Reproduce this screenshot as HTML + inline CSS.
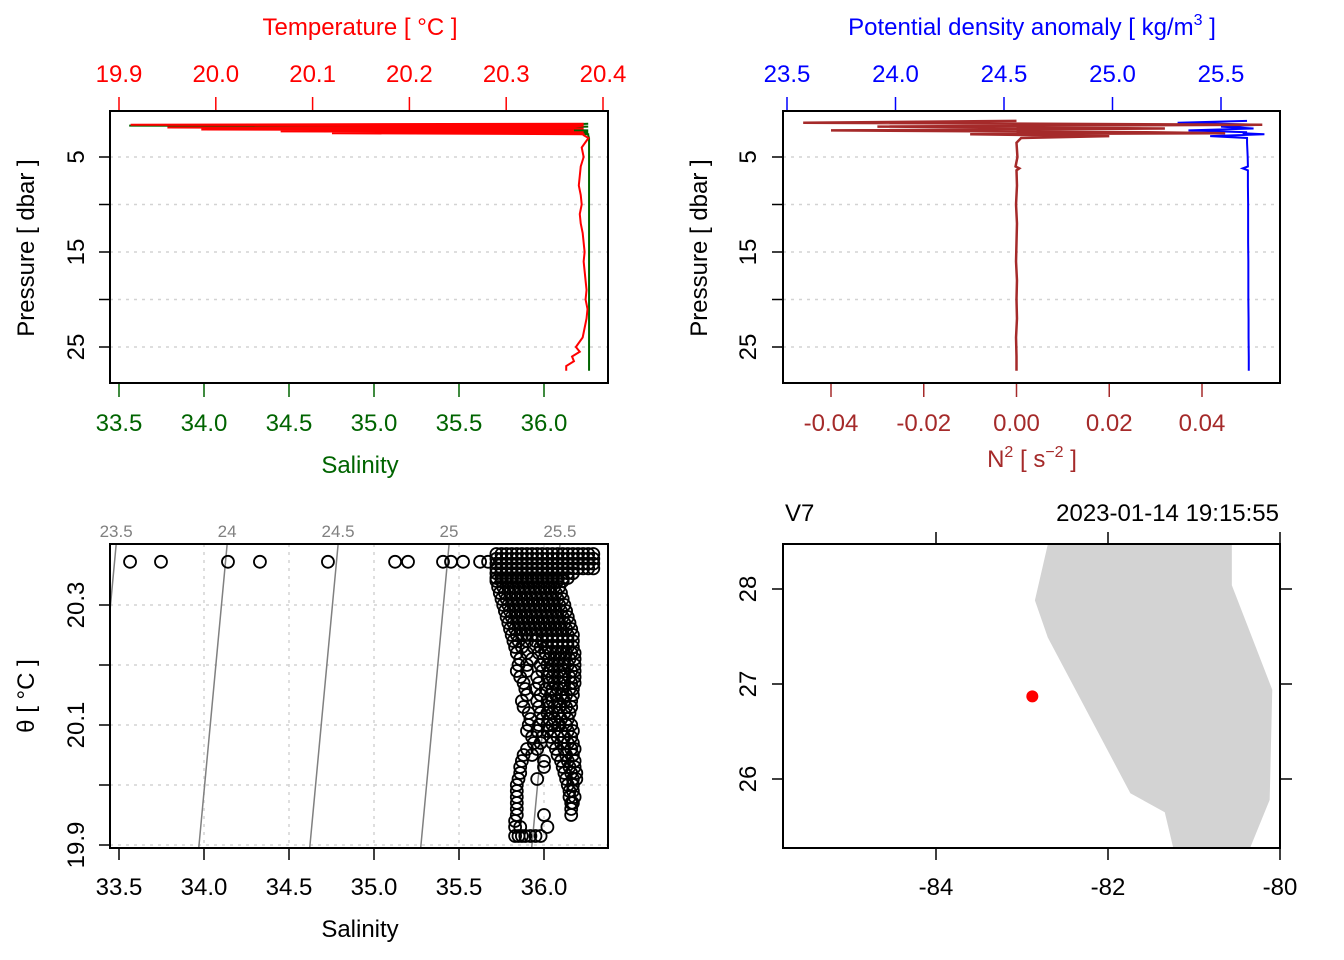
<!DOCTYPE html>
<html><head><meta charset="utf-8"><style>
html,body{margin:0;padding:0;background:#fff;}
svg{display:block;font-family:"Liberation Sans",sans-serif;}
</style></head><body>
<svg id="chart" width="1344" height="960" viewBox="0 0 1344 960" xmlns="http://www.w3.org/2000/svg"></svg>
<script>
// ---- Panel 1: profile data ----
const profPressure = [1.5,1.6,1.7,1.8,1.9,2.0,2.1,2.2,2.3,2.4,2.5,2.6,2.7,3,4,5,6,7,8,9,10,11,12,13,14,15,16,17,18,19,20,21,22,23,24,25,25.5,26,26.5,27,27.5];
const profTemp = [20.38,19.912,20.38,20.37,19.95,20.38,19.985,20.37,20.067,20.38,20.12,20.38,20.38,20.385,20.378,20.38,20.377,20.376,20.375,20.377,20.378,20.376,20.377,20.379,20.38,20.381,20.38,20.381,20.382,20.383,20.382,20.384,20.383,20.381,20.379,20.372,20.376,20.368,20.37,20.362,20.362];
const profSal = [36.26,36.1,33.56,36.26,35.9,36.2,35.85,36.26,35.95,36.26,36.05,36.26,36.26,36.265,36.265,36.265,36.265,36.265,36.265,36.265,36.265,36.265,36.265,36.265,36.265,36.265,36.265,36.265,36.265,36.265,36.265,36.265,36.265,36.265,36.265,36.265,36.265,36.265,36.265,36.265,36.265];
// ---- Panel 2: density & N2 ----
const p2Pressure = [1.2,1.4,1.6,1.8,2.0,2.2,2.4,2.5,2.6,2.8,3,3.5,5,6,6.2,6.4,8,10,12,14,16,18,20,22,24,26,27.5];
const p2Sigma = [25.62,25.3,25.68,25.5,25.65,25.35,25.62,25.6,25.7,25.45,25.62,25.62,25.623,25.624,25.6,25.624,25.624,25.625,25.625,25.625,25.626,25.626,25.626,25.627,25.627,25.628,25.628];
const p2N2 = [0,-0.046,0.053,-0.03,0.032,-0.04,0.028,0.045,-0.01,0.02,0.001,0,0.0002,-0.0002,0.0006,0,0.0001,-0.0001,0.0001,0,-0.0001,0.0001,0,0.0001,-0.0001,0,0];
// ---- Panel 3: TS scatter ----
const tsRows = [20.372,20.385,20.377,20.369,20.361,20.353,20.345,20.34,20.33,20.32,20.31,20.30,20.29,20.28,20.27,20.26,20.25,20.24,20.23,20.22,20.21,20.20,20.19,20.18,20.17,20.16,20.15,20.14,20.13,20.12,20.11,20.10,20.09,20.08,20.07,20.06,20.05,20.04,20.03,20.02,20.01,20.00,19.99,19.98,19.97,19.96,19.95,19.94,19.93,19.915];
const tsSal = [
 [33.565,33.747,34.141,34.329,34.729,35.124,35.2,35.406,35.453,35.524,35.624,35.671],
 [35.72,35.75,35.78,35.81,35.84,35.87,35.90,35.93,35.96,35.99,36.02,36.05,36.08,36.11,36.14,36.17,36.20,36.23,36.26,36.29],
 [35.72,35.75,35.78,35.81,35.84,35.87,35.90,35.93,35.96,35.99,36.02,36.05,36.08,36.11,36.14,36.17,36.20,36.23,36.26,36.29],
 [35.72,35.75,35.78,35.81,35.84,35.87,35.90,35.93,35.96,35.99,36.02,36.05,36.08,36.11,36.14,36.17,36.20,36.23,36.26,36.29],
 [35.72,35.75,35.78,35.81,35.84,35.87,35.90,35.93,35.96,35.99,36.02,36.05,36.08,36.11,36.14,36.17,36.20,36.23,36.26,36.29],
 [35.72,35.75,35.78,35.81,35.84,35.87,35.90,35.93,35.96,35.99,36.02,36.05,36.08,36.11,36.14,36.17],
 [35.72,35.75,35.78,35.81,35.84,35.87,35.90,35.93,35.96,35.99,36.02,36.05,36.08,36.11,36.14],
 [35.72,35.75,35.78,35.81,35.84,35.87,35.90,35.93,35.96,35.99,36.02,36.05,36.08,36.11],
 [35.73,35.76,35.79,35.82,35.85,35.88,35.91,35.94,35.97,36.00,36.03,36.06,36.09],
 [35.74,35.77,35.80,35.83,35.86,35.89,35.92,35.95,35.98,36.01,36.04,36.07,36.10],
 [35.75,35.78,35.81,35.84,35.87,35.90,35.93,35.96,35.99,36.02,36.05,36.08,36.11],
 [35.76,35.79,35.82,35.85,35.88,35.91,35.94,35.97,36.00,36.03,36.06,36.09,36.12],
 [35.77,35.80,35.83,35.86,35.89,35.92,35.95,35.98,36.01,36.04,36.07,36.10,36.13],
 [35.78,35.81,35.84,35.87,35.90,35.93,35.96,35.99,36.02,36.05,36.08,36.11,36.14],
 [35.79,35.82,35.85,35.88,35.91,35.94,35.97,36.00,36.03,36.06,36.09,36.12,36.15],
 [35.80,35.83,35.86,35.89,35.92,35.95,35.98,36.01,36.04,36.07,36.10,36.13,36.16],
 [35.81,35.84,35.87,35.90,35.93,35.96,35.99,36.02,36.05,36.08,36.11,36.14,36.17],
 [35.82,35.85,35.90,35.95,35.99,36.02,36.05,36.08,36.11,36.14,36.17],
 [35.83,35.87,35.94,35.98,36.02,36.05,36.08,36.11,36.14,36.17],
 [35.84,35.90,35.97,36.01,36.04,36.07,36.10,36.13,36.16,36.18],
 [35.86,35.93,36.00,36.03,36.06,36.09,36.12,36.15,36.18],
 [35.85,35.90,35.98,36.02,36.05,36.08,36.11,36.14,36.18],
 [35.84,35.90,35.99,36.03,36.06,36.09,36.12,36.16,36.18],
 [35.86,35.96,36.02,36.05,36.08,36.11,36.15,36.18],
 [35.88,35.97,36.03,36.06,36.09,36.12,36.16,36.18],
 [35.89,35.95,36.01,36.05,36.08,36.11,36.15,36.17],
 [35.90,35.98,36.04,36.07,36.10,36.13,36.17],
 [35.87,35.96,36.02,36.05,36.08,36.12,36.16],
 [35.88,35.97,36.03,36.06,36.09,36.13,36.16],
 [35.91,35.98,36.02,36.05,36.08,36.12,36.15],
 [35.92,35.99,36.03,36.06,36.10,36.14],
 [35.91,35.97,36.02,36.05,36.09,36.13,36.16],
 [35.90,35.96,36.02,36.06,36.10,36.14,36.17],
 [35.93,35.99,36.04,36.08,36.12,36.16],
 [35.94,35.98,36.05,36.10,36.14,36.17],
 [35.90,35.96,36.07,36.12,36.16,36.18],
 [35.88,35.93,36.08,36.13,36.17],
 [35.87,36.00,36.10,36.14,36.18],
 [35.86,36.00,36.11,36.15,36.18],
 [35.86,36.12,36.16,36.19],
 [35.85,35.96,36.13,36.17,36.19],
 [35.84,36.14,36.17],
 [35.84,36.15,36.17],
 [35.84,36.15,36.18],
 [35.84,36.16,36.17],
 [35.84,36.16],
 [35.84,36.0,36.16],
 [35.83],
 [35.83,35.86,36.02],
 [35.83,35.85,35.87,35.89,35.92,35.95,35.98]
];
const sigmaLevels = [23.5,24,24.5,25,25.5];
const sigmaLabels = ["23.5","24","24.5","25","25.5"];
// ---- Panel 4: map ----
const coastLon = [-82.70,-80.56,-80.56,-80.09,-80.12,-80.35,-81.24,-81.34,-81.74,-82.70,-82.85];
const coastLat = [28.47,28.47,28.04,26.94,25.78,25.27,25.27,25.65,25.85,27.49,27.88];
const stationLon = [-82.88];
const stationLat = [26.87];

const svg = document.getElementById('chart');
const NS = 'http://www.w3.org/2000/svg';
function mk(tag, attrs, parent, name, inter){
  const e = document.createElementNS(NS, tag);
  for (const k in attrs) e.setAttribute(k, attrs[k]);
  
  
  (parent||svg).appendChild(e); return e;
}
function txt(x,y,s,attrs,name){
  const t = mk('text', Object.assign({x:x,y:y,'font-size':24,'text-anchor':'middle'},attrs||{}), svg, name, false);
  t.textContent = s; return t;
}

// ===== Panel 1 =====
const S1 = s => 119 + (s-33.5)*170;
const T1 = t => 119 + (t-19.9)*968;
const P1 = p => 109.5 + p*9.5;
[5,10,15,20,25].forEach(p=>{
  mk('line',{x1:110,x2:608,y1:P1(p),y2:P1(p),stroke:'#d3d3d3','stroke-width':1.5,'stroke-dasharray':'3,5'},svg,'grid-line-p1',false);
  mk('line',{x1:99,x2:110,y1:P1(p),y2:P1(p),stroke:'#000','stroke-width':1.5},svg,'y-tick-p1',false);
});
[5,15,25].forEach(p=>{ txt(0,0,String(p),{transform:`translate(84,${P1(p)}) rotate(-90)`},'y-tick-label-p1'); });
txt(0,0,'Pressure [ dbar ]',{transform:'translate(34,248) rotate(-90)'},'y-axis-title-p1');
[19.9,20.0,20.1,20.2,20.3,20.4].forEach(t=>{
  mk('line',{x1:T1(t),x2:T1(t),y1:97,y2:111,stroke:'red','stroke-width':1.5},svg,'temp-tick',false);
  txt(T1(t),82,t.toFixed(1),{fill:'red'},'temp-tick-label');
});
txt(360,35,'Temperature [ °C ]',{fill:'red'},'temperature-axis-title');
[33.5,34.0,34.5,35.0,35.5,36.0].forEach(s=>{
  mk('line',{x1:S1(s),x2:S1(s),y1:383,y2:397,stroke:'#006400','stroke-width':1.5},svg,'salinity-tick',false);
  txt(S1(s),431,s.toFixed(1),{fill:'#006400'},'salinity-tick-label');
});
txt(360,473,'Salinity',{fill:'#006400'},'salinity-axis-title');
mk('polyline',{points:profPressure.map((p,i)=>S1(profSal[i])+','+P1(p)).join(' '),fill:'none',stroke:'#006400','stroke-width':2},svg,'salinity-profile',false);
mk('polyline',{points:profPressure.map((p,i)=>T1(profTemp[i])+','+P1(p)).join(' '),fill:'none',stroke:'red','stroke-width':2},svg,'temperature-profile',false);
mk('rect',{x:110,y:111,width:498,height:272,fill:'none',stroke:'#000','stroke-width':2},svg,'plot-frame-p1',false);

// ===== Panel 2 =====
const SG = s => 787 + (s-23.5)*217;
const NX = n => 1016.5 + n*4637.5;
const P2 = p => 109.5 + p*9.5;
[5,10,15,20,25].forEach(p=>{
  mk('line',{x1:783,x2:1280,y1:P2(p),y2:P2(p),stroke:'#d3d3d3','stroke-width':1.5,'stroke-dasharray':'3,5'},svg,'grid-line-p2',false);
  mk('line',{x1:772,x2:783,y1:P2(p),y2:P2(p),stroke:'#000','stroke-width':1.5},svg,'y-tick-p2',false);
});
[5,15,25].forEach(p=>{ txt(0,0,String(p),{transform:`translate(756,${P2(p)}) rotate(-90)`},'y-tick-label-p2'); });
txt(0,0,'Pressure [ dbar ]',{transform:'translate(707,248) rotate(-90)'},'y-axis-title-p2');
[23.5,24.0,24.5,25.0,25.5].forEach(s=>{
  mk('line',{x1:SG(s),x2:SG(s),y1:97,y2:111,stroke:'blue','stroke-width':1.5},svg,'density-tick',false);
  txt(SG(s),82,s.toFixed(1),{fill:'blue'},'density-tick-label');
});
(function(){const t=txt(1032,35,'',{fill:'blue'},'density-axis-title');
 t.innerHTML='Potential density anomaly [ kg/m<tspan font-size="16" dy="-10">3</tspan><tspan dy="10"> ]</tspan>';})();
[-0.04,-0.02,0,0.02,0.04].forEach(n=>{
  mk('line',{x1:NX(n),x2:NX(n),y1:383,y2:397,stroke:'#A52A2A','stroke-width':1.5},svg,'n2-tick',false);
  txt(NX(n),431,n.toFixed(2),{fill:'#A52A2A'},'n2-tick-label');
});
(function(){const t=txt(1032,467,'',{fill:'#A52A2A'},'n2-axis-title');
 t.innerHTML='N<tspan font-size="16" dy="-10">2</tspan><tspan dy="10"> [ s</tspan><tspan font-size="16" dy="-10">−2</tspan><tspan dy="10"> ]</tspan>';})();
mk('polyline',{points:p2Pressure.map((p,i)=>SG(p2Sigma[i])+','+P2(p)).join(' '),fill:'none',stroke:'blue','stroke-width':2},svg,'density-profile',false);
mk('polyline',{points:p2Pressure.map((p,i)=>NX(p2N2[i])+','+P2(p)).join(' '),fill:'none',stroke:'#A52A2A','stroke-width':2.5},svg,'n2-profile',false);
mk('rect',{x:783,y:111,width:497,height:272,fill:'none',stroke:'#000','stroke-width':2},svg,'plot-frame-p2',false);

// ===== Panel 3 =====
const S3 = s => 119 + (s-33.5)*170;
const T3 = t => 725 - (t-20.1)*600;
const cp = mk('clipPath',{id:'c3'},svg,'clip-ts',false);
mk('rect',{x:110,y:544,width:498,height:304},cp,'clip-rect',false);
[34.0,34.5,35.0,35.5,36.0].forEach(s=>mk('line',{x1:S3(s),x2:S3(s),y1:544,y2:848,stroke:'#d3d3d3','stroke-width':1.5,'stroke-dasharray':'3,5'},svg,'grid-vline-p3',false));
[20.3,20.2,20.1,20.0,19.9].forEach(t=>mk('line',{x1:110,x2:608,y1:T3(t),y2:T3(t),stroke:'#d3d3d3','stroke-width':1.5,'stroke-dasharray':'3,5'},svg,'grid-hline-p3',false));
const g3 = mk('g',{'clip-path':'url(#c3)'},svg,'ts-plot-area',false);
sigmaLevels.forEach((sg,i)=>{
  const sAt = t => 36.094 + (sg-25.5)/0.766 + 0.33*(t-20.4);
  mk('line',{x1:S3(sAt(20.4)),y1:T3(20.4),x2:S3(sAt(19.87)),y2:T3(19.87),stroke:'#808080','stroke-width':1.5},g3,'isopycnal-line',false);
  txt(S3(sAt(20.4)),537,sigmaLabels[i],{fill:'#808080','font-size':17},'isopycnal-label');
});
tsRows.forEach((t,i)=>tsSal[i].forEach(s=>{
  mk('circle',{cx:S3(s),cy:T3(t),r:6,fill:'none',stroke:'#000','stroke-width':1.8},g3,'ts-point',false);
}));
[33.5,34.0,34.5,35.0,35.5,36.0].forEach(s=>{
  mk('line',{x1:S3(s),x2:S3(s),y1:848,y2:860,stroke:'#000','stroke-width':1.5},svg,'x-tick-p3',false);
  txt(S3(s),895,s.toFixed(1),{},'x-tick-label-p3');
});
txt(360,937,'Salinity',{},'x-axis-title-p3');
[19.9,20.1,20.3].forEach(t=>{
  mk('line',{x1:99,x2:110,y1:T3(t),y2:T3(t),stroke:'#000','stroke-width':1.5},svg,'y-tick-p3',false);
  txt(0,0,t.toFixed(1),{transform:`translate(84,${T3(t)}) rotate(-90)`},'y-tick-label-p3');
});
[20.0,20.2].forEach(t=>mk('line',{x1:99,x2:110,y1:T3(t),y2:T3(t),stroke:'#000','stroke-width':1.5},svg,'y-tick-p3',false));
txt(0,0,'θ [ °C ]',{transform:'translate(34,696) rotate(-90)'},'y-axis-title-p3');
mk('rect',{x:110,y:544,width:498,height:304,fill:'none',stroke:'#000','stroke-width':2},svg,'plot-frame-p3',false);

// ===== Panel 4 =====
const LX = lon => 1108 + (lon+82)*86;
const LY = lat => 684 - (lat-27)*95;
mk('polygon',{points:coastLon.map((l,i)=>LX(l)+','+LY(coastLat[i])).join(' '),fill:'#d3d3d3',stroke:'none'},svg,'land-polygon',false);
stationLon.forEach((l,i)=>mk('circle',{cx:LX(l),cy:LY(stationLat[i]),r:6,fill:'red'},svg,'station-marker',false));
[-84,-82,-80].forEach(l=>{
  mk('line',{x1:LX(l),x2:LX(l),y1:848,y2:860,stroke:'#000','stroke-width':1.5},svg,'lon-tick',false);
  mk('line',{x1:LX(l),x2:LX(l),y1:532,y2:544,stroke:'#000','stroke-width':1.5},svg,'lon-tick-top',false);
  txt(LX(l),895,String(l),{},'lon-tick-label');
});
[26,27,28].forEach(l=>{
  mk('line',{x1:772,x2:783,y1:LY(l),y2:LY(l),stroke:'#000','stroke-width':1.5},svg,'lat-tick',false);
  mk('line',{x1:1280,x2:1292,y1:LY(l),y2:LY(l),stroke:'#000','stroke-width':1.5},svg,'lat-tick-right',false);
  txt(0,0,String(l),{transform:`translate(756,${LY(l)}) rotate(-90)`},'lat-tick-label');
});
txt(785,521,'V7',{'text-anchor':'start'},'station-name');
txt(1279,521,'2023-01-14 19:15:55',{'text-anchor':'end'},'station-time');
mk('rect',{x:783,y:544,width:497,height:304,fill:'none',stroke:'#000','stroke-width':2},svg,'map-frame',false);
</script>
</body></html>
